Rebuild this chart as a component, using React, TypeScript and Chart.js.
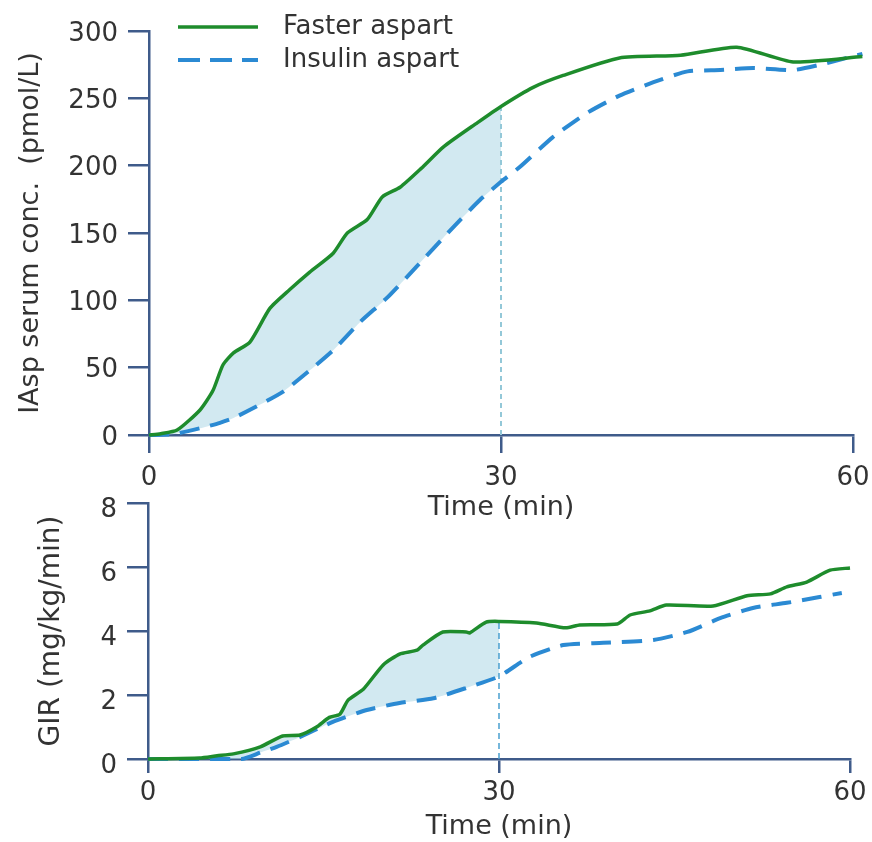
import React, { useEffect, useRef } from "react";
import { Chart, registerables } from "chart.js";

Chart.register(...registerables);

// ---------- data ----------
const seriesNames = ["Faster aspart", "Insulin aspart"];
const xTicks = [0, 30, 60];
const topYTicks = [0, 50, 100, 150, 200, 250, 300];
const botYTicks = [0, 2, 4, 6, 8];
const shadeEnd = 30;

const topTimeFast = [0, 1, 2.4, 4.35, 5.45, 6.3, 7.2, 8.6, 10.3, 12.0, 13.7, 15.7, 16.9, 18.6, 19.9, 21.4, 23.2, 25.1, 28, 30, 32.7, 35.3, 40.1, 45.3, 50.1, 54.9, 60.8];
const topConcFast = [0, 1, 3.7, 18.6, 33, 52, 61, 69, 94, 108, 121, 135, 150, 160, 177, 184, 198, 214, 232, 244, 258, 267, 280, 282, 288, 277, 281];

const topTimeAsp = [0, 2, 4.35, 6.05, 7.2, 8.9, 11.4, 13.7, 15.7, 18, 20.3, 22.8, 25.9, 28.2, 30, 31.6, 34.4, 37.3, 40.1, 43, 45.9, 48.7, 51.5, 54.9, 57.2, 60.8];
const topConcAsp = [0, 0.5, 5, 9, 12.6, 20, 32, 48, 63, 84, 102, 125, 154, 174.5, 188, 199, 221, 239, 252, 262, 270, 271, 272.5, 271, 275, 283];

const botTimeFast = [0, 4.4, 5.9, 7.3, 9.6, 11.5, 13, 14.4, 15.5, 16.4, 17.1, 18.4, 20.1, 21.5, 23, 23.5, 25.2, 27.2, 27.5, 28.9, 30, 33.2, 35.7, 36.9, 40.1, 41.2, 42.9, 44.3, 48.3, 51.2, 53.2, 54.6, 56.3, 58.3, 60];
const botGirFast = [0, 0.03, 0.1, 0.16, 0.38, 0.72, 0.75, 1.0, 1.3, 1.4, 1.84, 2.18, 2.94, 3.28, 3.4, 3.56, 3.97, 3.97, 3.94, 4.28, 4.3, 4.25, 4.1, 4.19, 4.22, 4.5, 4.63, 4.81, 4.78, 5.1, 5.16, 5.38, 5.53, 5.9, 5.97];

const botTimeAsp = [0, 8, 9.6, 11, 13, 15.8, 18.7, 21.5, 24.4, 27.2, 30, 32.6, 35.5, 38.9, 43.2, 46.1, 48.9, 51.7, 54.6, 57.4, 59.3];
const botGirAsp = [0, 0, 0.2, 0.38, 0.69, 1.16, 1.53, 1.75, 1.9, 2.22, 2.58, 3.19, 3.56, 3.63, 3.72, 3.97, 4.4, 4.72, 4.88, 5.06, 5.19];

// ---------- styles ----------
const FONT = "'DejaVu Sans', Verdana, sans-serif";
const TEXT = "#333333";
const AXIS = "#3f5b8a";
const GREEN = "#1e8c2c";
const BLUE = "#2b8ad3";
const SHADE = "rgba(180, 218, 232, 0.6)";

const toPts = (xs: number[], ys: number[]) => xs.map((x, i) => ({ x, y: ys[i] }));
const upTo = (pts: { x: number; y: number }[], lim: number) => pts.filter((p) => p.x <= lim);
const at = (pts: { x: number; y: number }[], x: number) => {
  const p = pts.find((q) => q.x === x);
  return p ? p.y : 0;
};

const legendPlugin = {
  id: "customLegend",
  afterDraw(chart: any) {
    const ctx = chart.ctx;
    ctx.save();
    const items = [
      { label: seriesNames[0], color: GREEN, dash: [] as number[], y: 27, w: 3.5 },
      { label: seriesNames[1], color: BLUE, dash: [22, 10], y: 60, w: 4 },
    ];
    items.forEach((it) => {
      ctx.beginPath();
      ctx.setLineDash(it.dash);
      ctx.strokeStyle = it.color;
      ctx.lineWidth = it.w;
      ctx.moveTo(178, it.y);
      ctx.lineTo(258, it.y);
      ctx.stroke();
      ctx.setLineDash([]);
      ctx.fillStyle = TEXT;
      ctx.font = `26px ${FONT}`;
      ctx.textBaseline = "middle";
      ctx.textAlign = "left";
      ctx.fillText(it.label, 283, it.y);
    });
    ctx.restore();
  },
};

const zeroPad = (s: any) => {
  s.paddingLeft = 0;
  s.paddingRight = 0;
  s.paddingTop = 0;
  s.paddingBottom = 0;
};

function makeConfig(opts: any) {
  const { fast, asp, yMin, yMax, yStep, yTitle, yTitleSize, yTitlePad, yWidth, xHeight, xTickLen, xTickPad, yLabelOffset, padding, vColor, vDash, vWidth, xTitlePadBottom, plugins } = opts;
  const vTop = at(fast, shadeEnd);
  return {
    type: "line",
    data: {
      datasets: [
        {
          label: seriesNames[0],
          data: fast,
          borderColor: GREEN,
          borderWidth: 3.5,
          pointRadius: 0,
          tension: 0.2,
          fill: false,
          clip: false,
          order: 0,
        },
        {
          label: seriesNames[1],
          data: asp,
          borderColor: BLUE,
          borderWidth: 4,
          borderDash: [20, 11],
          pointRadius: 0,
          tension: 0.2,
          fill: false,
          clip: false,
          order: 1,
        },
        {
          label: "marker",
          data: [
            { x: shadeEnd, y: 0 },
            { x: shadeEnd, y: vTop },
          ],
          borderColor: vColor,
          borderWidth: vWidth,
          borderDash: vDash,
          pointRadius: 0,
          fill: false,
          order: 2,
        },
        {
          label: "shadeTop",
          data: upTo(fast, shadeEnd),
          borderWidth: 0,
          borderColor: "rgba(0,0,0,0)",
          backgroundColor: SHADE,
          pointRadius: 0,
          tension: 0.2,
          fill: 4,
          order: 3,
        },
        {
          label: "shadeBottom",
          data: upTo(asp, shadeEnd),
          borderWidth: 0,
          borderColor: "rgba(0,0,0,0)",
          pointRadius: 0,
          tension: 0.2,
          fill: false,
          order: 4,
        },
      ],
    },
    options: {
      responsive: false,
      animation: false,
      layout: { padding },
      plugins: {
        legend: { display: false },
        tooltip: { enabled: false },
      },
      scales: {
        x: {
          type: "linear",
          min: 0,
          max: 60,
          afterBuildTicks: (s: any) => {
            s.ticks = xTicks.map((v) => ({ value: v }));
          },
          afterFit: (s: any) => {
            s.height = xHeight;
            zeroPad(s);
          },
          ticks: {
            color: TEXT,
            font: { family: FONT, size: 26 },
            padding: xTickPad,
            maxRotation: 0,
          },
          grid: {
            display: true,
            drawOnChartArea: false,
            drawTicks: true,
            tickLength: xTickLen,
            color: AXIS,
            lineWidth: 2.5,
          },
          border: { display: true, color: AXIS, width: 2.5 },
          title: {
            display: true,
            text: "Time (min)",
            color: TEXT,
            font: { family: FONT, size: 27, lineHeight: 1.1 },
            padding: { top: 0, bottom: xTitlePadBottom },
          },
        },
        y: {
          type: "linear",
          min: yMin,
          max: yMax,
          afterBuildTicks: (s: any) => {
            s.ticks = yStep.map((v: number) => ({ value: v }));
          },
          afterFit: (s: any) => {
            s.width = yWidth;
            zeroPad(s);
          },
          ticks: {
            color: TEXT,
            font: { family: FONT, size: 26 },
            padding: 10,
            labelOffset: yLabelOffset,
          },
          grid: {
            display: true,
            drawOnChartArea: false,
            drawTicks: true,
            tickLength: 21,
            color: AXIS,
            lineWidth: 2.5,
          },
          border: { display: true, color: AXIS, width: 2.5 },
          title: {
            display: true,
            text: yTitle,
            color: TEXT,
            font: { family: FONT, size: yTitleSize },
            padding: { top: yTitlePad, bottom: 0 },
          },
        },
      },
    },
    plugins: plugins || [],
  };
}

export default function App() {
  const topRef = useRef<HTMLCanvasElement>(null);
  const botRef = useRef<HTMLCanvasElement>(null);

  useEffect(() => {
    const fastTop = toPts(topTimeFast, topConcFast);
    const aspTop = toPts(topTimeAsp, topConcAsp);
    const fastBot = toPts(botTimeFast, botGirFast);
    const aspBot = toPts(botTimeAsp, botGirAsp);

    const c1 = new Chart(
      topRef.current as HTMLCanvasElement,
      makeConfig({
        fast: fastTop,
        asp: aspTop,
        yMin: 0,
        yMax: 300,
        yStep: topYTicks,
        yTitle: "IAsp serum conc.  (pmol/L)",
        yTitleSize: 27,
        yTitlePad: 15,
        yWidth: 149,
        xHeight: 95,
        xTickLen: 18,
        xTickPad: 10,
        yLabelOffset: 3,
        padding: { top: 31, right: 19, bottom: 0, left: 0 },
        vColor: "#93c8d8",
        vDash: [5, 4],
        vWidth: 2,
        xTitlePadBottom: 7,
        plugins: [legendPlugin],
      }) as any
    );
    const c2 = new Chart(
      botRef.current as HTMLCanvasElement,
      makeConfig({
        fast: fastBot,
        asp: aspBot,
        yMin: 0,
        yMax: 8,
        yStep: botYTicks,
        yTitle: "GIR (mg/kg/min)",
        yTitleSize: 28,
        yTitlePad: 35,
        yWidth: 148,
        xHeight: 83,
        xTickLen: 14,
        xTickPad: 5,
        yLabelOffset: 7,
        padding: { top: 33, right: 22, bottom: 0, left: 0 },
        vColor: "#4aa0d0",
        vDash: [6, 4],
        vWidth: 1.5,
        xTitlePadBottom: 0,
      }) as any
    );
    return () => {
      c1.destroy();
      c2.destroy();
    };
  }, []);

  return (
    <div style={{ position: "absolute", left: 0, top: 0, width: 872, height: 842, overflow: "hidden", background: "#fff" }}>
      <canvas ref={topRef} width={872} height={530} style={{ position: "absolute", left: 0, top: 0, width: 872, height: 530 }} />
      <canvas ref={botRef} width={872} height={372} style={{ position: "absolute", left: 0, top: 470, width: 872, height: 372 }} />
    </div>
  );
}
